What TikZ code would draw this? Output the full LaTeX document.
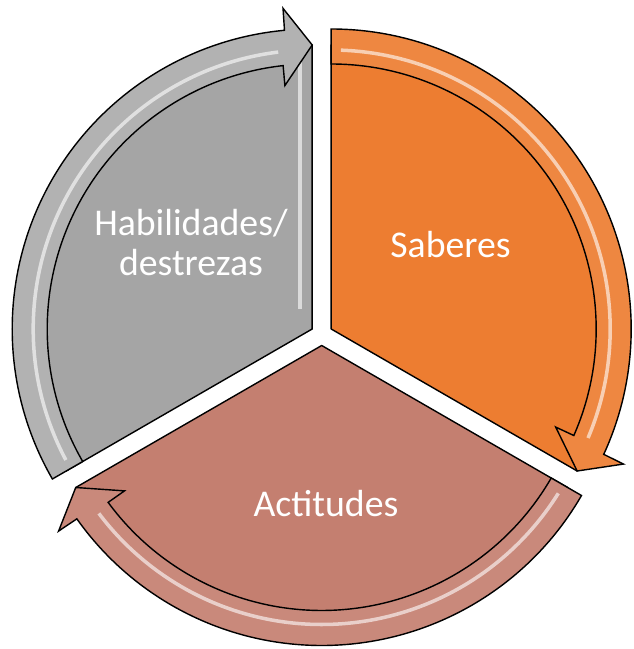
\documentclass[tikz,border=0pt]{standalone}
\usepackage{fontspec}
\setmainfont{Carlito}
\definecolor{gris}{HTML}{A5A5A5}
\definecolor{naranja}{HTML}{ED7D31}
\definecolor{rosa}{HTML}{C47F70}
\tikzset{
  sector/.style={draw=black, line width=0.8pt, line join=round},
  banda/.style={draw=black, line width=0.8pt, line join=miter},
  brillo/.style={white, opacity=0.6, line width=2pt},
  etiqueta/.style={text=white, font=\fontsize{21.5}{22.3}\selectfont, align=center}
}
\begin{document}
\begin{tikzpicture}[x=0.02cm,y=0.02cm]
	\useasboundingbox (-321.7,-314.5) rectangle (312.3,334.5);
	% Habilidades / destrezas
	\begin{scope}[shift={(-9.5,5.5)}]
		\path [sector, fill=gris] (0,0) -- (90:284) arc[start angle=90, end angle=210, radius=284] -- cycle;
		\draw [brillo] (-12,270) -- (-12,20);
		\path [banda, fill=gris!85!white] (210:300) arc[start angle=210, end angle=95.3, radius=300]
			-- (95.2:322) -- (90:284) -- (96.4:245) -- (96.3:265)
			arc[start angle=96.3, end angle=210, radius=265] -- cycle;
		\draw [brillo] (208:279) arc[start angle=208, end angle=97, radius=279];
	\end{scope}
	% Saberes
	\begin{scope}[shift={(9.5,5.5)}]
		\path [sector, fill=naranja] (0,0) -- (90:284) arc[start angle=90, end angle=-30, radius=284] -- cycle;
		\path [banda, fill=naranja!92!white] (90:300) arc[start angle=90, end angle=-24.7, radius=300]
			-- (-24.8:322) -- (-30:284) -- (-23.6:245) -- (-23.7:265)
			arc[start angle=-23.7, end angle=90, radius=265] -- cycle;
		\draw [brillo] (88:279) arc[start angle=88, end angle=-23, radius=279];
	\end{scope}
	% Actitudes
	\begin{scope}[shift={(0,-11)}]
		\path [sector, fill=rosa] (0,0) -- (210:284) arc[start angle=210, end angle=330, radius=284] -- cycle;
		\path [banda, fill=rosa!92!white] (330:300) arc[start angle=330, end angle=215.3, radius=300]
			-- (215.2:322) -- (210:284) -- (216.4:245) -- (216.3:265)
			arc[start angle=216.3, end angle=330, radius=265] -- cycle;
		\draw [brillo] (328:279) arc[start angle=328, end angle=217, radius=279];
	\end{scope}
	% Testi
	\node [etiqueta] (habilidades) at (-130.7,92) {Habilidades/\\destrezas};
	\node [etiqueta, anchor=base] (saberes) at (128.8,77.2) {Saberes};
	\node [etiqueta, anchor=base] (actitudes) at (4.3,-182.2) {Actitudes};
\end{tikzpicture}
\end{document}
